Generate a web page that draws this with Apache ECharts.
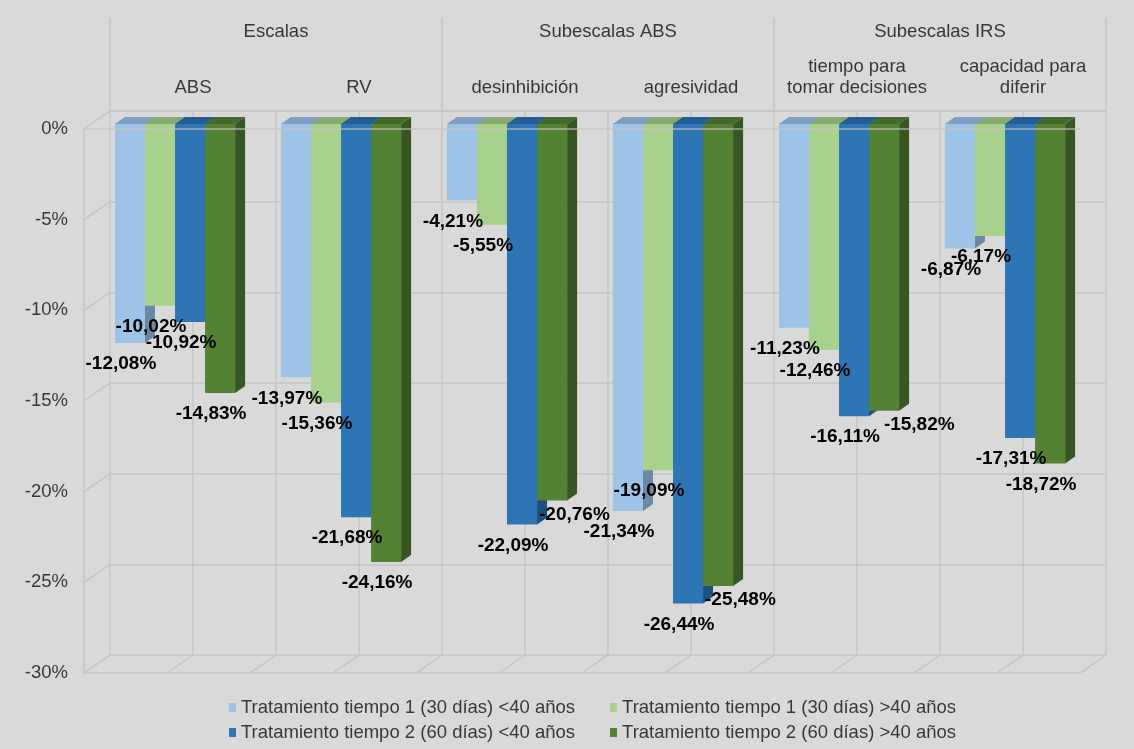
<!DOCTYPE html>
<html>
<head>
<meta charset="utf-8">
<script src="https://cdn.jsdelivr.net/npm/echarts@6/dist/echarts.min.js"></script>
<style>
  html, body { margin: 0; padding: 0; background: #d9d9d9; }
  #chart { width: 1134px; height: 749px; }
</style>
</head>
<body>
<div id="chart"></div>
<script>
// ---- data ----
const categories = ['ABS', 'RV', 'desinhibición', 'agresividad', 'tiempo para\ntomar decisiones', 'capacidad para\ndiferir'];
const groups = ['Escalas', 'Subescalas ABS', 'Subescalas IRS'];
const seriesNames = [
  'Tratamiento tiempo 1 (30 días) <40 años',
  'Tratamiento tiempo 1 (30 días) >40 años',
  'Tratamiento tiempo 2 (60 días) <40 años',
  'Tratamiento tiempo 2 (60 días) >40 años'
];
const t1Under40 = [-12.08, -13.97, -4.21, -21.34, -11.23, -6.87];
const t1Over40  = [-10.02, -15.36, -5.55, -19.09, -12.46, -6.17];
const t2Under40 = [-10.92, -21.68, -22.09, -26.44, -16.11, -17.31];
const t2Over40  = [-14.83, -24.16, -20.76, -25.48, -15.82, -18.72];
const valueTicks = [0, -5, -10, -15, -20, -25, -30];

const seriesValues = [t1Under40, t1Over40, t2Under40, t2Over40];

// ---- styling ----
const FONT = "'Liberation Sans', Arial, sans-serif";
const TEXT = '#383838';
const LINE = '#c4c4c4';
const LABEL_FONT_SIZE = 19;
// face colours: front, top, side
const faces = [
  ['#9dc3e6', '#7d9fc3', '#6c87a4'],
  ['#a9d18e', '#86aa70', '#7b9868'],
  ['#2e75b6', '#245e94', '#1f4f7e'],
  ['#548235', '#44692b', '#375623']
];
// oblique projection: offset of the back wall relative to the front plane
const DEPTH = [26, -18];
// bars sit a little behind the front plane and have their own depth
const BAR_SHIFT = [8, -5];
const BAR_DEPTH = [10, -7];
const BAR_FRACTION = 0.181;

const FRONT = { left: 84, top: 129, width: 996, height: 544 };
const BACK = { left: FRONT.left + DEPTH[0], top: FRONT.top + DEPTH[1], width: FRONT.width, height: FRONT.height };

function fmt(v) { return v.toFixed(2).replace('.', ',') + '%'; }

const measureCtx = document.createElement('canvas').getContext('2d');
function labelWidth(text) {
  measureCtx.font = 'bold ' + LABEL_FONT_SIZE + "px 'Liberation Sans', Arial, sans-serif";
  return measureCtx.measureText(text).width;
}

function barBox(api, cat, sIdx, val) {
  const p0 = api.coord([cat, 0]);
  const p1 = api.coord([cat, val]);
  const bw = api.size([1, 0])[0] * BAR_FRACTION;
  const x = p0[0] - 2 * bw + sIdx * bw + BAR_SHIFT[0];
  return { x, yTop: p0[1] + BAR_SHIFT[1], yBot: p1[1] + BAR_SHIFT[1], bw };
}

// Place the value labels of one category below their columns. A label that
// would collide with an earlier label is moved beside it; the last series'
// label also keeps clear of the longer column to its left.
function layoutLabels(api, cat) {
  const placed = [];
  const last = seriesValues.length - 1;
  seriesValues.forEach((arr, s) => {
    const val = arr[cat];
    const b = barBox(api, cat, s, val);
    const w = labelWidth(fmt(val));
    let cx = b.x + b.bw / 2 - 9;
    let cy = b.yBot + 21;
    if (s === last) {
      const prev = barBox(api, cat, s - 1, seriesValues[s - 1][cat]);
      if (prev.yBot > cy - 10 && cx - w / 2 < prev.x + prev.bw) {
        cx = prev.x + prev.bw + w / 2 + 2;
        cy = b.yBot + 14;
      }
    }
    placed.forEach(p => {
      if (Math.abs(p.cy - cy) < 12 && Math.abs(p.cx - cx) < (p.w + w) / 2 + 2) {
        cx = p.cx + (p.w + w) / 2 + 4;
        cy = b.yBot + 14;
      }
    });
    placed.push({ cx, cy, w });
  });
  return placed;
}

function barSeries(sIdx) {
  return {
    name: seriesNames[sIdx],
    type: 'custom',
    xAxisIndex: 0, yAxisIndex: 0,
    z: 2,
    itemStyle: { color: faces[sIdx][0] },
    encode: { x: 0, y: 1 },
    data: seriesValues[sIdx].map((v, i) => [i, v]),
    renderItem: function (params, api) {
      const g = barBox(api, api.value(0), sIdx, api.value(1));
      const [dx, dy] = BAR_DEPTH;
      const c = faces[sIdx];
      return {
        type: 'group',
        children: [
          { type: 'polygon', shape: { points: [[g.x + g.bw, g.yTop], [g.x + g.bw + dx, g.yTop + dy], [g.x + g.bw + dx, g.yBot + dy], [g.x + g.bw, g.yBot]] }, style: { fill: c[2] } },
          { type: 'polygon', shape: { points: [[g.x, g.yTop], [g.x + dx, g.yTop + dy], [g.x + g.bw + dx, g.yTop + dy], [g.x + g.bw, g.yTop]] }, style: { fill: c[1] } },
          { type: 'rect', shape: { x: g.x, y: g.yTop, width: g.bw, height: g.yBot - g.yTop }, style: { fill: c[0] } }
        ]
      };
    }
  };
}

// value labels for all bars, drawn above every column
const labelData = [];
seriesValues.forEach((arr, s) => arr.forEach((v, i) => labelData.push([i, s, v])));

const chart = echarts.init(document.getElementById('chart'));
chart.setOption({
  backgroundColor: '#d9d9d9',
  animation: false,
  textStyle: { fontFamily: FONT },
  grid: [
    { left: FRONT.left, top: FRONT.top, width: FRONT.width, height: FRONT.height },
    { left: BACK.left, top: BACK.top, width: BACK.width, height: BACK.height }
  ],
  xAxis: [
    { // front category axis (value 0 edge)
      gridIndex: 0, type: 'category', data: categories, position: 'top', z: 3,
      axisLine: { show: true, lineStyle: { color: 'rgba(196,196,196,0.75)', width: 1.5 } },
      axisTick: { show: false }, axisLabel: { show: false }, splitLine: { show: false }
    },
    { // category names on the back wall
      gridIndex: 1, type: 'category', data: categories, position: 'top',
      axisLine: { show: false }, axisTick: { show: false }, splitLine: { show: false },
      axisLabel: { interval: 0, margin: 12.5, fontSize: 18.5, lineHeight: 21, color: TEXT, fontFamily: FONT }
    },
    { // group names
      gridIndex: 1, type: 'category', data: groups, position: 'top', offset: 0,
      axisLine: { show: true, lineStyle: { color: LINE, width: 1.5 } },
      axisTick: { show: true, interval: 0, length: 93, lineStyle: { color: LINE, width: 1.5 } },
      splitLine: { show: false },
      axisLabel: { interval: 0, margin: 70, fontSize: 18.5, color: TEXT, fontFamily: FONT }
    },
    { // vertical grid lines on the back wall
      gridIndex: 1, type: 'value', min: 0, max: 12, interval: 1, position: 'bottom',
      axisLine: { show: false }, axisTick: { show: false }, axisLabel: { show: false },
      splitLine: { show: true, lineStyle: { color: LINE, width: 1.5 } }
    }
  ],
  yAxis: [
    {
      gridIndex: 0, type: 'value', min: -30, max: 0, interval: 5,
      axisLine: { show: true, lineStyle: { color: LINE, width: 1.5 } },
      axisTick: { show: false }, splitLine: { show: false },
      axisLabel: { formatter: v => v + '%', margin: 16, fontSize: 18.5, color: TEXT, fontFamily: FONT }
    },
    {
      gridIndex: 1, type: 'value', min: -30, max: 0, interval: 5,
      axisLine: { show: false }, axisTick: { show: false }, axisLabel: { show: false },
      splitLine: { show: true, lineStyle: { color: LINE, width: 1.5 } }
    }
  ],
  legend: [
    {
      data: seriesNames.slice(0, 2), left: 224, top: 693, itemGap: 35, itemWidth: 7, itemHeight: 9, icon: 'rect',
      textStyle: { fontSize: 18.5, color: TEXT, fontFamily: FONT }
    },
    {
      data: seriesNames.slice(2, 4), left: 224, top: 718, itemGap: 35, itemWidth: 7, itemHeight: 9, icon: 'rect',
      textStyle: { fontSize: 18.5, color: TEXT, fontFamily: FONT }
    }
  ],
  series: [
    { // side wall and floor of the 3D frame
      type: 'custom', xAxisIndex: 0, yAxisIndex: 0, z: 1, silent: true,
      data: [[0, 0]],
      renderItem: function (params, api) {
        const cs = params.coordSys;
        const st = { stroke: LINE, lineWidth: 1.5 };
        const kids = [];
        valueTicks.forEach(v => {
          const y = api.coord([0, v])[1];
          kids.push({ type: 'line', shape: { x1: cs.x, y1: y, x2: cs.x + DEPTH[0], y2: y + DEPTH[1] }, style: st });
        });
        const yb = cs.y + cs.height;
        kids.push({ type: 'line', shape: { x1: cs.x, y1: yb, x2: cs.x + cs.width, y2: yb }, style: st });
        const slots = categories.length * 2;
        for (let k = 0; k <= slots; k++) {
          const x = cs.x + k * cs.width / slots;
          kids.push({ type: 'line', shape: { x1: x, y1: yb, x2: x + DEPTH[0], y2: yb + DEPTH[1] }, style: st });
        }
        return { type: 'group', children: kids };
      }
    },
    barSeries(0), barSeries(1), barSeries(2), barSeries(3),
    {
      type: 'custom', xAxisIndex: 0, yAxisIndex: 0, z: 4, silent: true,
      encode: { x: 0, y: 2 },
      data: labelData,
      renderItem: function (params, api) {
        const cat = api.value(0), s = api.value(1), val = api.value(2);
        const pos = layoutLabels(api, cat)[s];
        return {
          type: 'text',
          style: { text: fmt(val), x: pos.cx, y: pos.cy, align: 'center', verticalAlign: 'middle', fill: '#000', fontSize: LABEL_FONT_SIZE, fontWeight: 'bold', fontFamily: FONT }
        };
      }
    }
  ]
});
</script>
</body>
</html>
